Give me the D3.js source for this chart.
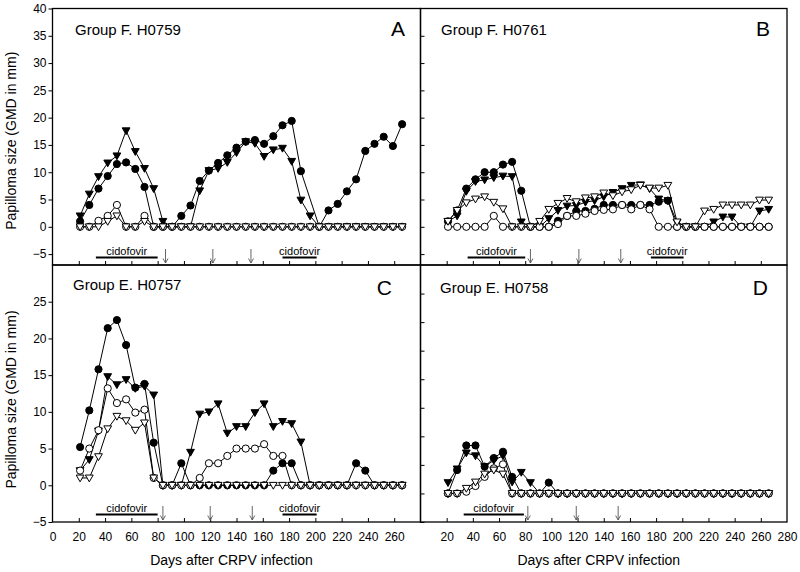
<!DOCTYPE html>
<html><head><meta charset="utf-8">
<script src="https://cdn.jsdelivr.net/npm/d3@7"></script>
<style>
body{margin:0;background:#fff;}
svg{display:block;font-family:"Liberation Sans",Arial,Helvetica,sans-serif;}
</style>
</head><body>
<svg id="chart" width="800" height="572"></svg>
<script>
// ---------------- DATA ----------------
const days = [21,28,35,42,49,56,63,70,77,84,91,98,105,112,119,126,133,140,147,154,161,168,175,182,189,196,203,210,217,224,231,238,245,252,259,266];

// Panel A: Group F. H0759
const aFilledCircle   = [1,4,7,9.3,11.5,11.8,10.6,7.3,0,0,0,2,3.9,8.4,10.3,11.7,13.1,14.5,15.6,15.9,15.2,16.6,18.6,19.4,10.2,null,0,3,4.2,6.5,8.7,13.9,15.2,16.5,14.8,18.8];
const aFilledTriangle = [2,6,9.2,11.7,13,17.6,13.8,10.7,7,1,0,0,0,6.6,10.3,10.7,11.8,13.6,15.6,15.3,12.9,14.1,14.4,12,4.9,2,0,0,0,0,0,0,0,0,0,0];
const aOpenCircle     = [0,0,1.1,2,4,0,0,2,0,0,0,0,0,0,0,0,0,0,0,0,0,0,0,0,0,0,0,0,0,0,0,0,0,0,0,0];
const aOpenTriangle   = [0,0,0,1,2,0,0,1,0,0,0,0,0,0,0,0,0,0,0,0,0,0,0,0,0,0,0,0,0,0,0,0,0,0,0,0];

// Panel B: Group F. H0761
const bFilledCircle   = [1,3,7,8.7,10,10,11.4,11.9,6.6,0,0,0,1.1,2,2.9,2.9,3.3,4,4,4,4,4,4,4.6,4.8,0,0,0,0,0,0,0,0,0,0,0];
const bFilledTriangle = [1,2,6.5,8.3,8.6,9,9.3,9.2,0.9,0,0,1.5,3,3.8,3.9,4.5,4.8,5.5,6.3,7,7.6,7.7,7,5.1,4.8,0.8,0,0,0,0.9,1.8,1.8,0,0,2.9,3.2];
const bOpenCircle     = [0,0,0,0,0,2,0,0,0,0,0,0,0.5,2,2,2.4,2.9,3.1,3.2,4,3.2,4,3.2,0,0,0,0,0,0,0,0,0,0,0,0,0];
const bOpenTriangle   = [1,3,4.4,5.1,5.5,4.5,3.3,0,0,0,1,3.2,4.3,5.2,4.6,5.3,5.5,6.2,5.7,6.4,6.8,7.6,7.1,7.1,7.6,0.9,0,0,2.9,3.2,4,4,4,4,4.9,4.9];

// Panel C: Group E. H0757
const cFilledCircle   = [5.2,10.2,15.8,21.4,22.5,19.1,13.3,13.8,5.8,0,0,3,0,0,0,0,0,0,0,0,0,2,3,3,0,0,0,0,0,0,3,2,0,0,0,0];
const cFilledTriangle = [2,3.5,7.4,14.8,13.7,14.4,13.2,13.5,12.3,0,0,0,4.5,9.7,10,11.1,7.1,8,8,9.9,11.1,8,8.7,8.4,5.9,0,0,0,0,0,0,0,0,0,0,0];
const cOpenCircle     = [2,5,7.5,13.2,11.2,11.7,9.9,10.3,1,0,0,0,0,1,3,3,4,5,5,5,5.6,4,4,0,0,0,0,0,0,0,0,0,0,0,0,0];
const cOpenTriangle   = [1,1,3.9,7.7,9.4,8.8,7.5,8.5,1,0,0,0,0,0,0,0,0,0,0,0,0,0,0,0,0,0,0,0,0,0,0,0,0,0,0,0];

// Panel D: Group E. H0758
const dFilledCircle   = [0,4.1,8.4,8.4,4.7,6.2,7.3,2.9,0,0,0,1.9,0,0,0,0,0,0,0,0,0,0,0,0,0,0,0,0,0,0,0,0,0,0,0,0];
const dFilledTriangle = [1.9,4.3,7.1,6.6,4.7,5.8,6.6,2,3.7,1.9,0,0,0,0,0,0,0,0,0,0,0,0,0,0,0,0,0,0,0,0,0,0,0,0,0,0];
const dOpenCircle     = [0,0,0.3,1.3,2.9,4.4,5.1,0,0,0,0,0,0,0,0,0,0,0,0,0,0,0,0,0,0,0,0,0,0,0,0,0,0,0,0,0];
const dOpenTriangle   = [0,0,0.9,2,3.4,4.1,3.4,0,0,0,0,0,0,0,0,0,0,0,0,0,0,0,0,0,0,0,0,0,0,0,0,0,0,0,0,0];

const titles  = ["Group F. H0759","Group F. H0761","Group E. H0757","Group E. H0758"];
const letters = ["A","B","C","D"];
const yTicksTop = [-5,0,5,10,15,20,25,30,35,40];
const yTicksC   = [-5,0,5,10,15,20,25];
const yTicksD   = [-5,0,5,10,15,20,25,30,35];
const xTickVals = [20,40,60,80,100,120,140,160,180,200,220,240,260];
const xLabelsC  = [0,20,40,60,80,100,120,140,160,180,200,220,240,260];
const xLabelsD  = [20,40,60,80,100,120,140,160,180,200,220,240,260,280];
const cidoA = [[33,80],[175,201]];
const cidoB = [[36,80],[176,201]];
const cidoC = [[33,80],[175,201]];
const cidoD = [[33,79]];
const arrowsA = [86,122,151];
const arrowsB = [84,121,153];
const arrowsC = [84,120,152];
const arrowsD = [82,119,151];
const xLabel = "Days after CRPV infection";
const yLabel = "Papilloma size (GMD in mm)";

// ---------------- LAYOUT ----------------
const LX = [52.5, 420.5], RX = [420.5, 787];
const TY = [8.5, 265], BY = [265, 522];

const panels = [
  {x:LX, y:TY, dom:[-7,40], series:[aFilledCircle,aFilledTriangle,aOpenCircle,aOpenTriangle],
   title:titles[0], tx:75, ty:35, letter:letters[0], lx:405, ly:36, cido:cidoA, arrows:arrowsA,
   yTicks:yTicksTop, yLab:true, xLab:null},
  {x:RX, y:TY, dom:[-7,40], series:[bFilledCircle,bFilledTriangle,bOpenCircle,bOpenTriangle],
   title:titles[1], tx:441, ty:35, letter:letters[1], lx:770, ly:36, cido:cidoB, arrows:arrowsB,
   yTicks:yTicksD, yLab:false, xLab:null},
  {x:LX, y:BY, dom:[-5,30], series:[cFilledCircle,cFilledTriangle,cOpenCircle,cOpenTriangle],
   title:titles[2], tx:73, ty:290, letter:letters[2], lx:392, ly:295, cido:cidoC, arrows:arrowsC,
   yTicks:yTicksC, yLab:true, xLab:xLabelsC},
  {x:RX, y:BY, dom:[-5,40], series:[dFilledCircle,dFilledTriangle,dOpenCircle,dOpenTriangle],
   title:titles[3], tx:440, ty:293, letter:letters[3], lx:768, ly:295, cido:cidoD, arrows:arrowsD,
   yTicks:yTicksD, yLab:false, xLab:xLabelsD}
];

const styles = [
  {shape:"circle", fill:"#000"},
  {shape:"tri", fill:"#000"},
  {shape:"circle", fill:"#fff"},
  {shape:"tri", fill:"#fff"}
];
const triPath = "M-3.9,-2.9L3.9,-2.9L0,3.9Z";

const svg = d3.select("#chart");

panels.forEach(p => {
  const x = d3.scaleLinear().domain([0,280]).range(p.x);
  const y = d3.scaleLinear().domain(p.dom).range([p.y[1], p.y[0]]);
  const g = svg.append("g");

  // y axis
  if (p.yLab) {
    const ax = g.append("g").attr("transform", `translate(${p.x[0]},0)`)
      .call(d3.axisLeft(y).tickValues(p.yTicks).tickSize(4).tickPadding(2));
    ax.select(".domain").remove();
    ax.selectAll("text").attr("font-size", 12).attr("fill", "#000")
      .attr("font-family", '"Liberation Sans",Arial,sans-serif');
    ax.selectAll("line").attr("stroke", "#000");
  } else {
    const ax = g.append("g").attr("transform", `translate(${p.x[0]},0)`)
      .call(d3.axisRight(y).tickValues(p.yTicks).tickSize(4).tickFormat(""));
    ax.select(".domain").remove();
    ax.selectAll("line").attr("stroke", "#000");
  }
  // bottom ticks (inward)
  const bx = g.append("g").attr("transform", `translate(0,${p.y[1]})`)
    .call(d3.axisTop(x).tickValues(xTickVals).tickSize(4).tickFormat(""));
  bx.select(".domain").remove();
  bx.selectAll("line").attr("stroke", "#000");
  if (p.xLab) {
    const lab = g.append("g").attr("transform", `translate(0,${p.y[1]})`)
      .call(d3.axisBottom(x).tickValues(p.xLab).tickSize(0).tickPadding(10));
    lab.select(".domain").remove();
    lab.selectAll("text").attr("font-size", 12).attr("fill", "#000")
      .attr("font-family", '"Liberation Sans",Arial,sans-serif');
    g.append("text").attr("x", (p.x[0]+p.x[1])/2 - 5).attr("y", 565)
      .attr("text-anchor", "middle").attr("font-size", 14).text(xLabel);
  }
  if (p.yLab) {
    g.append("text").attr("transform", `translate(16,${(p.y[0]+p.y[1])/2 + (p.dom[0]===-7?4:6)}) rotate(-90)`)
      .attr("text-anchor", "middle").attr("font-size", 14).text(yLabel);
  }

  // frame
  g.append("rect").attr("x", p.x[0]).attr("y", p.y[0])
    .attr("width", p.x[1]-p.x[0]).attr("height", p.y[1]-p.y[0])
    .attr("fill", "none").attr("stroke", "#000").attr("stroke-width", 1.3);

  // titles
  g.append("text").attr("x", p.tx).attr("y", p.ty).attr("font-size", 15).text(p.title);
  g.append("text").attr("x", p.lx).attr("y", p.ly).attr("text-anchor", "end")
    .attr("font-size", 21).text(p.letter);

  // cidofovir bars
  p.cido.forEach(c => {
    g.append("line").attr("x1", x(c[0])).attr("x2", x(c[1]))
      .attr("y1", p.y[1]-7.5).attr("y2", p.y[1]-7.5)
      .attr("stroke", "#000").attr("stroke-width", 2);
    g.append("text").attr("x", x((c[0]+c[1])/2)).attr("y", p.y[1]-10.5)
      .attr("text-anchor", "middle").attr("font-size", 11).text("cidofovir");
  });
  // arrows
  p.arrows.forEach(a => {
    const ax = x(a), yb = p.y[1]-2, yt = p.y[1]-16;
    g.append("path").attr("d", `M${ax},${yt}L${ax},${yb}M${ax-2.5},${yb-4.5}L${ax},${yb}L${ax+2.5},${yb-4.5}`)
      .attr("fill", "none").attr("stroke", "#555").attr("stroke-width", 0.9);
  });

  // series lines
  const line = d3.line().x(d => x(d.day)).y(d => y(d.v));
  const ser = p.series.map(arr => days.map((d,i) => ({day:d, v:arr[i]})).filter(d => d.v !== null));
  ser.forEach(pts => {
    g.append("path").datum(pts).attr("d", line)
      .attr("fill", "none").attr("stroke", "#000").attr("stroke-width", 1);
  });
  // markers
  ser.forEach((pts, si) => {
    const st = styles[si];
    const m = g.append("g").selectAll("g").data(pts).join("g")
      .attr("transform", d => `translate(${x(d.day)},${y(d.v)})`);
    if (st.shape === "circle") {
      m.append("circle").attr("r", 3.6).attr("fill", st.fill).attr("stroke", "#000").attr("stroke-width", 1);
    } else {
      m.append("path").attr("d", triPath).attr("fill", st.fill).attr("stroke", "#000").attr("stroke-width", 1);
    }
  });
});
</script>
</body></html>
